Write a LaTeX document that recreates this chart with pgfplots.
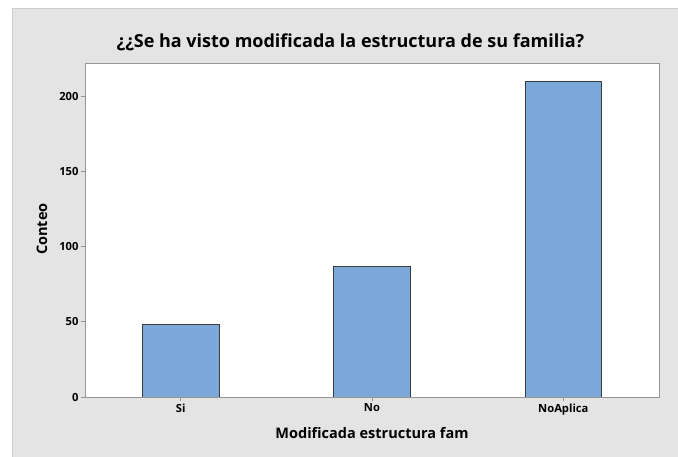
\documentclass[border=0pt]{standalone}
\usepackage{pgfplots}
\pgfplotsset{compat=1.18}
\usepackage{fontspec}
\setmainfont{Open Sans}
\definecolor{bgray}{RGB}{228,228,228}
\definecolor{bborder}{RGB}{205,205,205}
\definecolor{barblue}{RGB}{123,167,217}
\definecolor{baredge}{RGB}{60,60,60}
\definecolor{axgray}{RGB}{150,150,150}
\begin{document}
\begin{tikzpicture}[x=1pt,y=1pt]
\path[use as bounding box, fill=white] (0,0) rectangle (678,457);
\fill[bgray] (12,0) rectangle (678,449);
\draw[bborder, line width=1pt] (12.5,-1) -- (12.5,448.5) -- (679,448.5);
\begin{axis}[
  at={(85pt,60pt)}, anchor=south west,
  width=574pt, height=334pt, scale only axis,
  xmin=-0.5, xmax=2.5, ymin=0, ymax=222,
  axis background/.style={fill=white},
  axis line style={axgray, line width=0.8pt},
  xtick={0,1,2}, xticklabels={Si,No,NoAplica},
  ytick={0,50,100,150,200},
  tick align=outside, tick pos=left,
  major tick length=4pt,
  tick style={axgray, line width=0.6pt},
  ticklabel style={font=\fontsize{11.2}{13}\selectfont\bfseries},
  /pgf/number format/assume math mode=true,
  xticklabel style={yshift=1pt},
  yticklabel style={xshift=1pt},
  ybar, bar width=0.4,
]
\addplot[fill=barblue, draw=baredge, line width=0.8pt] coordinates {(0,48) (1,87) (2,210)};
\end{axis}
\node[font=\fontsize{18}{21}\selectfont\bfseries] at (350.5,415) {¿¿Se ha visto modificada la estructura de su familia?};
\node[font=\fontsize{14.5}{17}\selectfont\bfseries, rotate=90] at (42,228) {Conteo};
\node[font=\fontsize{14.5}{17}\selectfont\bfseries] at (372,24) {Modificada estructura fam};
\end{tikzpicture}
\end{document}
